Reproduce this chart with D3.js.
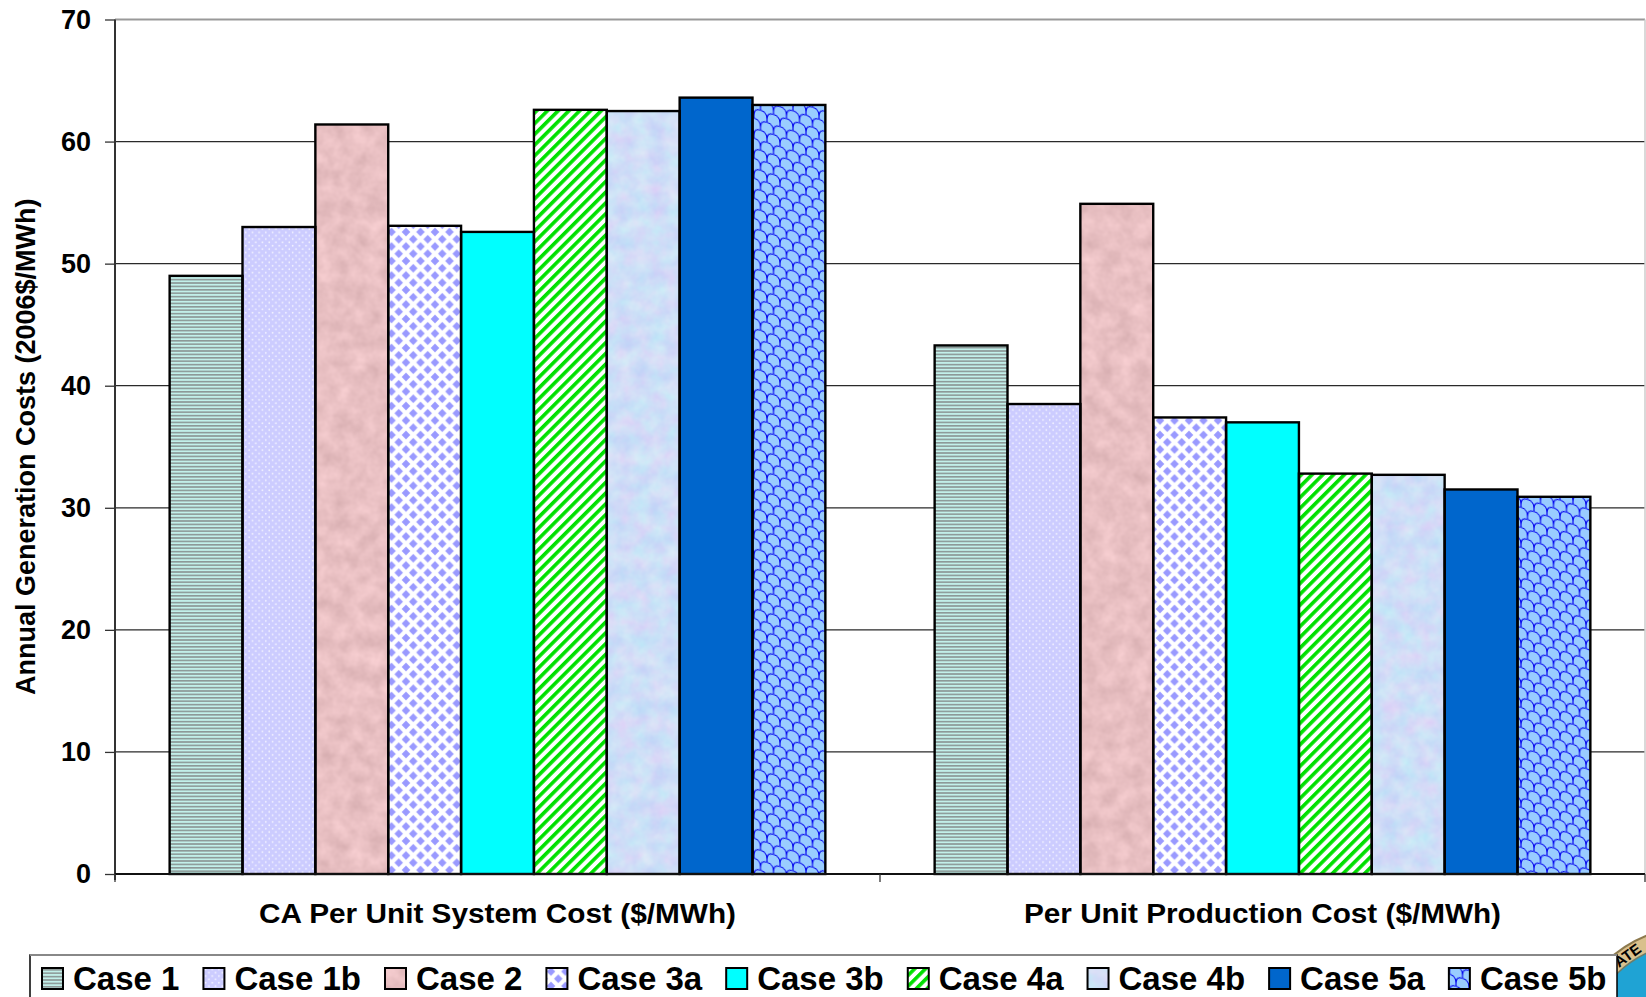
<!DOCTYPE html>
<html>
<head>
<meta charset="utf-8">
<script src="https://cdn.jsdelivr.net/npm/d3@7"></script>
<style>
  html, body { margin: 0; padding: 0; background: #ffffff; }
  svg { display: block; }
  text { font-family: "Liberation Sans", Arial, Helvetica, sans-serif; font-weight: bold; fill: #000; }
</style>
</head>
<body>
<svg id="chart" width="1646" height="997"></svg>
<script>
// Annual generation costs by case, in 2006 $/MWh
const categories = ["CA Per Unit System Cost ($/MWh)", "Per Unit Production Cost ($/MWh)"];
const cases = ["Case 1", "Case 1b", "Case 2", "Case 3a", "Case 3b", "Case 4a", "Case 4b", "Case 5a", "Case 5b"];
const systemCost = [49.0, 53.0, 61.4, 53.1, 52.6, 62.6, 62.5, 63.6, 63.0];
const productionCost = [43.3, 38.5, 54.9, 37.4, 37.0, 32.8, 32.7, 31.5, 30.9];
const yTicks = [0, 10, 20, 30, 40, 50, 60, 70];
const yTitle = "Annual Generation Costs (2006$/MWh)";

const seriesByCategory = [systemCost, productionCost];

const W = 1646, H = 997;
const plot = { left: 115, right: 1645, top: 19.5, bottom: 874 };

const svg = d3.select("#chart");
const defs = svg.append("defs");

// ---- fills for each case ----
// Case 1: fine horizontal stripes
const p1 = defs.append("pattern").attr("id", "f0").attr("patternUnits", "userSpaceOnUse")
  .attr("width", 8).attr("height", 3.4);
p1.append("rect").attr("width", 8).attr("height", 3.4).attr("fill", "#c2f0ea");
p1.append("rect").attr("width", 8).attr("height", 1.6).attr("fill", "#8c9897");

// Case 1b: lavender with small white dots
const p2 = defs.append("pattern").attr("id", "f1").attr("patternUnits", "userSpaceOnUse")
  .attr("width", 6.7).attr("height", 6.7);
p2.append("rect").attr("width", 6.7).attr("height", 6.7).attr("fill", "#ccccff");
[[1.2, 1.2], [4.55, 4.55]].forEach(([cx, cy]) =>
  p2.append("circle").attr("cx", cx).attr("cy", cy).attr("r", 0.85).attr("fill", "#f4f4ff"));

// Case 3a: blue diamonds on white
const dS = 14.5, dR = 4.3;
const p4 = defs.append("pattern").attr("id", "f3").attr("patternUnits", "userSpaceOnUse")
  .attr("width", dS).attr("height", dS);
p4.append("rect").attr("width", dS).attr("height", dS).attr("fill", "#ffffff");
[[0, 0], [dS, 0], [0, dS], [dS, dS], [dS / 2, dS / 2]].forEach(([cx, cy]) =>
  p4.append("path").attr("d", `M${cx},${cy - dR}L${cx + dR},${cy}L${cx},${cy + dR}L${cx - dR},${cy}Z`)
    .attr("fill", "#9999ff"));

// Case 4a: green diagonal stripes
const p6 = defs.append("pattern").attr("id", "f5").attr("patternUnits", "userSpaceOnUse")
  .attr("width", 7.6).attr("height", 20).attr("patternTransform", "rotate(45)");
p6.append("rect").attr("width", 7.6).attr("height", 20).attr("fill", "#ffffff");
p6.append("rect").attr("width", 3.6).attr("height", 20).attr("fill", "#00e000");

// Case 5b: light blue with blue scale lines
const p9 = defs.append("pattern").attr("id", "f8").attr("patternUnits", "userSpaceOnUse")
  .attr("width", 13).attr("height", 20).attr("patternTransform", "skewY(18)");
p9.append("rect").attr("width", 13).attr("height", 20).attr("fill", "#99ccff");
p9.append("path")
  .attr("d", "M0,10 Q0,3 6.5,3 Q13,3 13,10 M-6.5,20 Q-6.5,13 0,13 Q6.5,13 6.5,20 M6.5,20 Q6.5,13 13,13 Q19.5,13 19.5,20 M6.5,0 L6.5,3 M0,10 L0,13 M13,10 L13,13")
  .attr("fill", "none").attr("stroke", "#0000ee").attr("stroke-width", 1.1);

// mottled textures (Case 2 and Case 4b)
function textureFilter(id, seed, freq, matrix) {
  const f = defs.append("filter").attr("id", id)
    .attr("x", 0).attr("y", 0).attr("width", 1).attr("height", 1)
    .attr("color-interpolation-filters", "sRGB");
  f.append("feTurbulence").attr("type", "fractalNoise").attr("baseFrequency", freq)
    .attr("numOctaves", 3).attr("seed", seed).attr("result", "noise");
  f.append("feColorMatrix").attr("in", "noise").attr("type", "matrix").attr("values", matrix).attr("result", "col");
  f.append("feComposite").attr("in", "col").attr("in2", "SourceGraphic").attr("operator", "in");
}
textureFilter("tex2", 7, 0.06,
  "0.16 0 0 0 0.83  0.16 0 0 0 0.67  0.16 0 0 0 0.68  0 0 0 0 1");
textureFilter("tex7", 11, 0.06,
  "0.16 0 0 0 0.73  0 0.14 0 0 0.80  0 0 0 0 0.97  0 0 0 0 1");

// how each case is filled: pattern url, or a texture filter over a base color
const fillSpec = [
  { fill: "url(#f0)" },
  { fill: "url(#f1)" },
  { fill: "#e6bec0", filter: "url(#tex2)" },
  { fill: "url(#f3)" },
  { fill: "#00ffff" },
  { fill: "url(#f5)" },
  { fill: "#d0dcf6", filter: "url(#tex7)" },
  { fill: "#0066cc" },
  { fill: "url(#f8)" }
];

// ---- scales ----
const x0 = d3.scaleBand().domain(categories).range([plot.left, plot.right]).paddingInner(0).paddingOuter(0);
const x1 = d3.scaleBand().domain(cases).range([0, x0.bandwidth()]).paddingInner(0).paddingOuter(0.75);
const y = d3.scaleLinear().domain([0, 70]).range([plot.bottom, plot.top]);

// ---- gridlines ----
svg.append("g").selectAll("line").data(yTicks.filter(t => t > 0 && t < 70)).join("line")
  .attr("x1", plot.left).attr("x2", plot.right)
  .attr("y1", d => y(d)).attr("y2", d => y(d))
  .attr("stroke", "#2a2a2a").attr("stroke-width", 1.2);

// plot frame: top and right edges
svg.append("line").attr("x1", plot.left).attr("x2", plot.right).attr("y1", y(70)).attr("y2", y(70))
  .attr("stroke", "#999").attr("stroke-width", 2.2);
svg.append("line").attr("x1", plot.right).attr("x2", plot.right).attr("y1", y(70)).attr("y2", plot.bottom)
  .attr("stroke", "#ccc").attr("stroke-width", 1.5);

// ---- bars ----
const barData = [];
categories.forEach((cat, ci) => {
  cases.forEach((cs, si) => barData.push({ cat, cs, si, v: seriesByCategory[ci][si] }));
});
const bars = svg.append("g");
bars.selectAll("rect.fill").data(barData).join("rect")
  .attr("class", "fill")
  .attr("x", d => x0(d.cat) + x1(d.cs))
  .attr("y", d => y(d.v))
  .attr("width", x1.bandwidth())
  .attr("height", d => y(0) - y(d.v))
  .attr("fill", d => fillSpec[d.si].fill)
  .attr("filter", d => fillSpec[d.si].filter || null);
bars.selectAll("rect.edge").data(barData).join("rect")
  .attr("class", "edge")
  .attr("x", d => x0(d.cat) + x1(d.cs))
  .attr("y", d => y(d.v))
  .attr("width", x1.bandwidth())
  .attr("height", d => y(0) - y(d.v))
  .attr("fill", "none").attr("stroke", "#000").attr("stroke-width", 2.4);

// ---- y axis ----
const yAxis = d3.axisLeft(y).tickValues(yTicks).tickSize(10).tickPadding(14).tickFormat(d3.format("d"));
const gy = svg.append("g").attr("transform", `translate(${plot.left},0)`).call(yAxis);
gy.select(".domain").attr("stroke", "#333").attr("stroke-width", 2).attr("d", `M0,${y(70)}V${plot.bottom + 6}`);
gy.selectAll(".tick line").attr("stroke", "#333").attr("stroke-width", 1.3);
gy.selectAll(".tick text").attr("font-size", 27).attr("font-family", null).attr("fill", "#000");

// ---- x axis ----
const xAxis = d3.axisBottom(x0).tickSize(0).tickPadding(0);
const gx = svg.append("g").attr("transform", `translate(0,${plot.bottom})`).call(xAxis);
gx.select(".domain").attr("stroke", "#111").attr("stroke-width", 2).attr("d", `M${plot.left},0H${plot.right}`);
gx.selectAll(".tick text").attr("font-size", 27).attr("font-family", null).attr("fill", "#000")
  .attr("dy", null).attr("y", 49)
  .attr("textLength", 477).attr("lengthAdjust", "spacingAndGlyphs");
// category boundary ticks
const bounds = [plot.left, plot.left + x0.bandwidth(), plot.right];
gx.selectAll("line.sep").data(bounds).join("line").attr("class", "sep")
  .attr("x1", d => d).attr("x2", d => d).attr("y1", 0).attr("y2", 8)
  .attr("stroke", "#333").attr("stroke-width", 1.3);

// ---- y title ----
svg.append("text")
  .attr("transform", `translate(35,${(plot.top + plot.bottom) / 2}) rotate(-90)`)
  .attr("text-anchor", "middle").attr("font-size", 27)
  .text(yTitle);

// ---- seal in the corner ----
const seal = svg.append("g");
seal.append("circle").attr("cx", 1692).attr("cy", 1050).attr("r", 123)
  .attr("fill", "#d9c08c").attr("stroke", "#8d7a4e").attr("stroke-width", 2);
seal.append("circle").attr("cx", 1692).attr("cy", 1050).attr("r", 107)
  .attr("fill", "#1fa3d4").attr("stroke", "#6d7d6a").attr("stroke-width", 1.5);
seal.append("text").attr("transform", "translate(1619,968) rotate(-36)")
  .attr("font-size", 15).attr("font-family", "Liberation Serif, serif").attr("font-weight", "normal")
  .attr("fill", "#5e9484").text("ATE");

// ---- legend ----
const lg = svg.append("g");
lg.append("rect").attr("x", 30).attr("y", 955).attr("width", 1587).attr("height", 60)
  .attr("fill", "#fff").attr("stroke", "#000").attr("stroke-width", 1.5);
lg.append("line").attr("x1", 30).attr("x2", 1617).attr("y1", 955).attr("y2", 955)
  .attr("stroke", "#888").attr("stroke-width", 2);

let lx = 42;
cases.forEach((cs, i) => {
  const it = lg.append("g");
  it.append("rect").attr("x", lx).attr("y", 968).attr("width", 21).attr("height", 21)
    .attr("fill", fillSpec[i].fill).attr("filter", fillSpec[i].filter || null);
  it.append("rect").attr("x", lx).attr("y", 968).attr("width", 21).attr("height", 21)
    .attr("fill", "none").attr("stroke", "#000").attr("stroke-width", 2);
  const t = it.append("text").attr("x", lx + 31).attr("y", 990).attr("font-size", 33).text(cs);
  lx += 31 + t.node().getComputedTextLength() + 24;
});
</script>
</body>
</html>
